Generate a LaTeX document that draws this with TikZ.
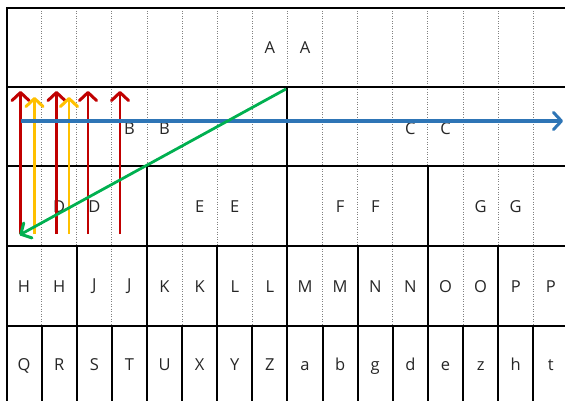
\documentclass[tikz,border=0pt]{standalone}
\usepackage{fontspec}
\setmainfont{Open Sans}
\usetikzlibrary{arrows.meta}
\definecolor{ared}{HTML}{C00000}
\definecolor{ayel}{HTML}{FFC000}
\definecolor{ablue}{HTML}{2E75B6}
\definecolor{agreen}{HTML}{00B050}
\begin{document}
\begin{tikzpicture}[x=1pt,y=-1pt,
  solidline/.style={line width=2pt,black},
  dotline/.style={black!50,line width=0.9pt,dash pattern=on 0.9pt off 1.6pt},
  lbl/.style={font=\fontsize{16.5}{16.5}\selectfont, text=black!85, inner sep=0pt},
  arr/.style={line width=2.8pt,-{Straight Barb[length=8pt,width=17pt,line width=3pt,round]}},
]
\useasboundingbox (0,0) rectangle (565,401);
\clip (0,0) rectangle (565,401);
\def\cw{35.12}
\def\xo{6.5}
% dotted column lines
\foreach \k in {1,...,15} \draw[dotline] ({\xo+\cw*\k},8.5) -- ({\xo+\cw*\k},87);
\foreach \k in {1,...,7,9,10,...,15} \draw[dotline] ({\xo+\cw*\k},87) -- ({\xo+\cw*\k},166.5);
\foreach \k in {1,2,3,5,6,7,9,10,11,13,14,15} \draw[dotline] ({\xo+\cw*\k},166.5) -- ({\xo+\cw*\k},246);
\foreach \k in {1,3,...,15} \draw[dotline] ({\xo+\cw*\k},246) -- ({\xo+\cw*\k},326);
% solid lines
\foreach \y in {8.5,87,166.5,246,326,405.5} \draw[solidline] (\xo,\y) -- (575,\y);
\draw[solidline] (\xo,7.5) -- (\xo,406);
\draw[solidline] ({\xo+\cw*8},87) -- ({\xo+\cw*8},166.5);
\foreach \k in {4,8,12} \draw[solidline] ({\xo+\cw*\k},166.5) -- ({\xo+\cw*\k},246);
\foreach \k in {2,4,...,14} \draw[solidline] ({\xo+\cw*\k},246) -- ({\xo+\cw*\k},326);
\foreach \k in {1,...,15} \draw[solidline] ({\xo+\cw*\k},326) -- ({\xo+\cw*\k},406);
% labels
\node[lbl] (a1) at ({\xo+\cw*7.5},47.5) {A};
\node[lbl] (a2) at ({\xo+\cw*8.5},47.5) {A};
\node[lbl] (b1) at ({\xo+\cw*3.5},128.5) {B};
\node[lbl] (b2) at ({\xo+\cw*4.5},128.5) {B};
\node[lbl] (c1) at ({\xo+\cw*11.5},128.5) {C};
\node[lbl] (c2) at ({\xo+\cw*12.5},128.5) {C};
\node[lbl] (d1) at ({\xo+\cw*1.5},207) {D};
\node[lbl] (d2) at ({\xo+\cw*2.5},207) {D};
\node[lbl] (e1) at ({\xo+\cw*5.5},207) {E};
\node[lbl] (e2) at ({\xo+\cw*6.5},207) {E};
\node[lbl] (f1) at ({\xo+\cw*9.5},207) {F};
\node[lbl] (f2) at ({\xo+\cw*10.5},207) {F};
\node[lbl] (g1) at ({\xo+\cw*13.5},207) {G};
\node[lbl] (g2) at ({\xo+\cw*14.5},207) {G};
\foreach \t [count=\i from 0] in {H,H,J,J,K,K,L,L,M,M,N,N,O,O,P,P}
  \node[lbl] (h\i) at ({\xo+\cw*(\i+0.5)},286.5) {\t};
\foreach \t [count=\i from 0] in {Q,R,S,T,U,X,Y,Z,a,b,g,d,e,z,h,t}
  \node[lbl] (q\i) at ({\xo+\cw*(\i+0.5)},366) {\vphantom{Q}\t};
% arrow endpoints
\foreach \x [count=\i] in {20.5,56.5,88,120} {
  \coordinate (rs\i) at (\x,234);
  \coordinate (re\i) at (\x,91);
}
\foreach \x [count=\i] in {34.5,69} {
  \coordinate (ys\i) at (\x,234);
  \coordinate (ye\i) at (\x,97);
}
\coordinate (bs) at (20.5,121);
\coordinate (be) at (563,121);
\coordinate (gs) at (286,89);
\coordinate (ge) at (19.5,235);
% arrows
\foreach \i in {1,...,4} \draw[arr,ared] (rs\i) -- (re\i);
\foreach \i in {1,2} \draw[arr,ayel] (ys\i) -- (ye\i);
\draw[arr,ablue,line width=3.2pt] (bs) -- (be);
\draw[arr,agreen] (gs) -- (ge);
\end{tikzpicture}
\end{document}
